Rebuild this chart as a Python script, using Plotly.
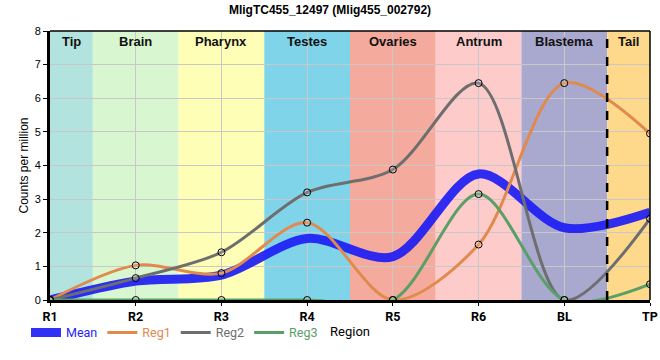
import plotly.graph_objects as go

categories = ["R1", "R2", "R3", "R4", "R5", "R6", "BL", "TP"]
regions = ["Tip", "Brain", "Pharynx", "Testes", "Ovaries", "Antrum", "Blastema", "Tail"]
region_colors = ["#b3e3df", "#d8f6d0", "#fefeb6", "#7fd4ea", "#f4aa9c", "#fecbcb", "#a9a8cf", "#fed98c"]

mean_vals = [0.0, 0.56, 0.74, 1.83, 1.29, 3.75, 2.15, 2.61]
reg1_vals = [0.0, 1.03, 0.80, 2.30, 0.0, 1.65, 6.45, 4.95]
reg2_vals = [0.0, 0.65, 1.42, 3.20, 3.88, 6.45, 0.0, 2.42]
reg3_vals = [0.0, 0.0, 0.0, 0.0, 0.0, 3.15, 0.0, 0.47]

x = list(range(len(categories)))

fig = go.Figure()

# background bands
n = len(categories)
for i, (name, col) in enumerate(zip(regions, region_colors)):
    x0 = max(i - 0.5, 0)
    x1 = min(i + 0.5, n - 1)
    fig.add_shape(type="rect", xref="x", yref="paper", x0=x0, x1=x1, y0=0, y1=1,
                  fillcolor=col, line_width=0, layer="below")
    fig.add_annotation(x=(x0 + x1) / 2, y=1, xref="x", yref="paper", yanchor="top",
                       yshift=-1, text="<b>%s</b>" % name, showarrow=False,
                       font=dict(size=13, color="#111111", family="Liberation Sans, Arial"))

fig.add_shape(type="line", xref="x", yref="paper", x0=n - 1.5, x1=n - 1.5, y0=0, y1=1,
              line=dict(color="black", width=2.5, dash="dash"))

series = [
    ("Mean", mean_vals, "rgb(30,30,245)", 9, False),
    ("Reg1", reg1_vals, "#e08a4d", 3, True),
    ("Reg2", reg2_vals, "#6e6e6e", 3, True),
    ("Reg3", reg3_vals, "#5a9e68", 3, True),
]
for name, vals, col, w, mk in series:
    fig.add_trace(go.Scatter(
        x=x, y=vals, mode="lines",
        name="<span style='color:%s'>%s</span>" % (col, name),
        line=dict(color=col, width=w, shape="spline", smoothing=0.9),
        opacity=0.92 if name == "Mean" else 1,
    ))
for name, vals, col, w, mk in series:
    if mk:
        fig.add_trace(go.Scatter(
            x=x, y=vals, mode="markers", showlegend=False, name=name,
            marker=dict(size=7, color="rgba(255,255,255,0.15)", line=dict(color="black", width=1)),
        ))

fig.update_layout(
    width=660, height=360,
    margin=dict(l=50, r=10, t=31, b=60, autoexpand=False),
    paper_bgcolor="white", plot_bgcolor="white",
    title=dict(text="<b>MligTC455_12497 (Mlig455_002792)</b>", x=0.5, xref="container",
               xanchor="center", y=0.972, yanchor="middle", automargin=False,
               font=dict(size=12, color="black", family="Liberation Sans, Arial")),
    font=dict(family="Liberation Sans, Arial", size=11, color="black"),
    legend=dict(orientation="h", x=-0.04, xanchor="left", y=-0.122, yanchor="middle",
                font=dict(size=12.5, family="Roboto, Arial"), bgcolor="rgba(0,0,0,0)",
                itemwidth=30, tracegroupgap=0),
    showlegend=True,
)
fig.update_xaxes(range=[0, n - 1], tickvals=x, ticktext=["<b>%s</b>" % c for c in categories],
                 automargin=False,
                 showgrid=True, gridcolor="#c8c8c8", gridwidth=1, layer="above traces",
                 showline=True, linecolor="black", linewidth=3, mirror=False,
                 ticks="outside", ticklen=3, tickcolor="black",
                 tickfont=dict(size=12.5, family="Roboto, Arial"),
                 title=dict(text="Region", standoff=4, font=dict(size=13, family="Roboto, Arial")),
                 zeroline=False)
fig.update_yaxes(range=[0, 8], dtick=1, showgrid=True, gridcolor="#c8c8c8", gridwidth=1,
                 automargin=False,
                 showline=True, linecolor="black", linewidth=3,
                 ticks="outside", ticklen=4, tickcolor="black",
                 title=dict(text="Counts per million", standoff=4, font=dict(size=12)),
                 zeroline=False)
# top and right border
fig.add_shape(type="line", xref="paper", yref="paper", x0=0, x1=1, y0=1, y1=1,
              line=dict(color="black", width=1.5))
fig.add_shape(type="line", xref="paper", yref="paper", x0=1, x1=1, y0=0, y1=1,
              line=dict(color="black", width=1.5))

fig.write_html("out.html", config={"displayModeBar": False},
               post_script="document.body.style.margin='0';")
